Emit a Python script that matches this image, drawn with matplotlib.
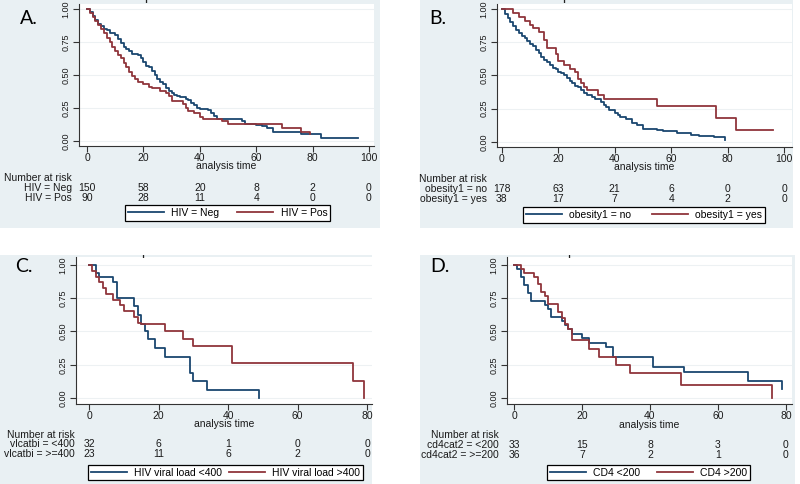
import matplotlib
matplotlib.use('Agg')
import matplotlib.pyplot as plt
from matplotlib.patches import Rectangle
from matplotlib.transforms import blended_transform_factory, Bbox

plt.rcParams['font.family'] = ['Liberation Sans', 'DejaVu Sans']

# ---- data ----
# A: HIV status
a_neg_t = [0, 1, 2, 3, 4, 5, 6, 7, 8, 10, 11, 12, 13, 14, 15, 16, 18, 19, 20, 21, 22, 23, 24, 25, 26,
           27, 28, 29, 30, 31, 32, 33, 35, 36, 37, 38, 39, 40, 43, 44, 45, 46, 55, 56, 60, 62, 64, 66,
           76, 83, 96]
a_neg_s = [1.0, 0.98, 0.95, 0.92, 0.89, 0.87, 0.85, 0.84, 0.82, 0.80, 0.77, 0.74, 0.71, 0.70, 0.68,
           0.66, 0.65, 0.63, 0.60, 0.57, 0.56, 0.53, 0.50, 0.47, 0.45, 0.43, 0.40, 0.38, 0.36, 0.35,
           0.34, 0.33, 0.32, 0.31, 0.29, 0.27, 0.25, 0.24, 0.235, 0.21, 0.19, 0.17, 0.15, 0.125, 0.12,
           0.11, 0.096, 0.07, 0.05, 0.025, 0.025]
a_pos_t = [0, 1, 2, 3, 4, 5, 6, 7, 8, 9, 10, 11, 12, 13, 14, 15, 16, 17, 18, 20, 22, 23, 26, 28, 29,
           30, 34, 35, 36, 38, 40, 41, 48, 50, 69, 76, 79]
a_pos_s = [1.0, 0.97, 0.94, 0.91, 0.88, 0.85, 0.82, 0.78, 0.75, 0.71, 0.68, 0.65, 0.63, 0.59, 0.56,
           0.52, 0.49, 0.47, 0.45, 0.43, 0.41, 0.40, 0.38, 0.36, 0.34, 0.30, 0.28, 0.25, 0.23, 0.21,
           0.18, 0.17, 0.15, 0.13, 0.10, 0.07, 0.05]
a_risk_neg = [150, 58, 20, 8, 2, 0]
a_risk_pos = [90, 28, 11, 4, 0, 0]

# B: obesity
b_no_t = [0, 1, 2, 3, 4, 5, 6, 7, 8, 9, 10, 11, 12, 13, 14, 15, 16, 17, 18, 19, 20, 21, 22, 23, 24,
          25, 26, 27, 28, 29, 30, 32, 33, 35, 36, 37, 38, 40, 41, 42, 44, 46, 48, 50, 55, 57, 62, 67,
          70, 75, 79]
b_no_s = [1.0, 0.96, 0.93, 0.90, 0.87, 0.84, 0.82, 0.80, 0.78, 0.76, 0.74, 0.72, 0.69, 0.67, 0.64,
          0.62, 0.60, 0.58, 0.56, 0.55, 0.53, 0.52, 0.50, 0.48, 0.46, 0.44, 0.42, 0.41, 0.39, 0.37,
          0.35, 0.34, 0.32, 0.30, 0.28, 0.26, 0.24, 0.22, 0.20, 0.19, 0.17, 0.14, 0.13, 0.10, 0.09,
          0.08, 0.07, 0.055, 0.045, 0.035, 0.015]
b_yes_t = [0, 4, 6, 8, 10, 11, 13, 15, 16, 19, 20, 22, 24, 26, 27, 28, 29, 30, 34, 36, 55, 76, 83, 96]
b_yes_s = [1.0, 0.97, 0.94, 0.91, 0.88, 0.86, 0.83, 0.77, 0.71, 0.66, 0.61, 0.58, 0.55, 0.53, 0.47,
           0.44, 0.41, 0.39, 0.35, 0.32, 0.27, 0.18, 0.09, 0.09]
b_risk_no = [178, 63, 21, 6, 0, 0]
b_risk_yes = [38, 17, 7, 4, 2, 0]

# C: HIV viral load
c_low_t = [0, 2, 3, 7, 8, 13, 14, 15, 16, 17, 19, 22, 29, 30, 34, 49]
c_low_s = [1.0, 0.94, 0.91, 0.875, 0.75, 0.69, 0.625, 0.56, 0.50, 0.44, 0.375, 0.31, 0.19, 0.125,
           0.0625, 0.0]
c_high_t = [0, 1, 2, 3, 4, 5, 7, 9, 10, 13, 14, 15, 22, 27, 30, 41, 76, 79]
c_high_s = [1.0, 0.957, 0.913, 0.870, 0.826, 0.783, 0.739, 0.696, 0.652, 0.609, 0.565, 0.555, 0.50,
            0.44, 0.39, 0.26, 0.13, 0.0]
c_risk_low = [32, 6, 1, 0, 0]
c_risk_high = [23, 11, 6, 2, 0]

# D: CD4 count
d_low_t = [0, 1, 2, 3, 4, 5, 9, 10, 11, 14, 15, 16, 17, 20, 22, 27, 29, 41, 50, 69, 79]
d_low_s = [1.0, 0.97, 0.91, 0.85, 0.79, 0.73, 0.70, 0.67, 0.61, 0.58, 0.55, 0.52, 0.48, 0.45, 0.41,
           0.38, 0.31, 0.235, 0.195, 0.13, 0.065]
d_high_t = [0, 2, 3, 6, 7, 8, 9, 10, 13, 14, 15, 16, 17, 22, 25, 30, 34, 49, 76]
d_high_s = [1.0, 0.97, 0.94, 0.91, 0.86, 0.80, 0.77, 0.71, 0.65, 0.60, 0.56, 0.52, 0.435, 0.37, 0.31,
            0.25, 0.19, 0.095, 0.0]
d_risk_low = [33, 15, 8, 3, 0]
d_risk_high = [36, 7, 2, 1, 0]

ticks_100 = [0, 20, 40, 60, 80, 100]
ticks_80 = [0, 20, 40, 60, 80]
yticks = [0, 0.25, 0.5, 0.75, 1.0]

NAVY = '#1a476f'
MAROON = '#90353b'
BG = '#e9f0f3'
W, H = 800, 484

fig = plt.figure(figsize=(8, 4.84), dpi=100)


def fx(px):
    return px / W


def fy(py):
    return 1 - py / H


def panel(bg, box, xlim, ylim, xticks, letter, letter_xy, curves, risk_rows, risk_x, risk_y,
          legend_labels, legend_box, label_y):
    # panel background, kept behind the axes
    fig.patches.append(Rectangle((fx(bg[0]), fy(bg[3])), fx(bg[2] - bg[0]), (bg[3] - bg[1]) / H,
                                 transform=fig.transFigure, facecolor=BG, edgecolor='none', zorder=-5))
    l, t, r, b = box
    ax = fig.add_axes([fx(l), fy(b), fx(r - l), (b - t) / H])
    ax.set_facecolor('white')
    ax.set_xlim(*xlim)
    ax.set_ylim(*ylim)
    for sp in ['top', 'right']:
        ax.spines[sp].set_visible(False)
    for sp in ['left', 'bottom']:
        ax.spines[sp].set_color('#333333')
        ax.spines[sp].set_linewidth(0.8)
    ax.set_xticks(xticks)
    ax.set_yticks(yticks)
    ax.set_yticklabels(['%.2f' % v for v in yticks], rotation=90, va='center')
    ax.tick_params(axis='both', direction='out', length=4, width=0.8, color='#333333', pad=2,
                   labelcolor='#1a1a1a')
    ax.tick_params(axis='x', labelsize=7.5, pad=1.2)
    ax.tick_params(axis='y', labelsize=6.5)
    ax.grid(axis='y', color='#edf1f3', linewidth=0.8)
    ax.set_axisbelow(True)

    handles = []
    for tt, ss, col in curves:
        h, = ax.step(tt, ss, where='post', color=col, linewidth=1.3)
        handles.append(h)

    ax.text(0.5, fy(label_y), 'analysis time', transform=blended_transform_factory(ax.transAxes, fig.transFigure),
            ha='center', va='center', fontsize=7.5, color='#1a1a1a', clip_on=False)

    # cut-off title at the top of the panel
    tl = fig.text(fx((l + r) / 2), fy(bg[1]), 'Kaplan-Meier survival estimates', ha='center',
                  va='baseline', fontsize=10, color='#222222')
    tl.set_clip_box(Bbox.from_extents(bg[0], H - bg[3], bg[2], H - bg[1]))
    tl.set_clip_on(True)

    fig.text(fx(letter_xy[0]), fy(letter_xy[1]), letter, fontsize=14, family=['Lato', 'DejaVu Sans'],
             ha='left', va='center', color='black')

    # number at risk table
    tr = blended_transform_factory(ax.transData, fig.transFigure)
    fig.text(fx(risk_x), fy(risk_y[0]), 'Number at risk', ha='right', va='center', fontsize=7.5,
             color='#1a1a1a')
    for (lab, vals), ry in zip(risk_rows, risk_y[1:]):
        fig.text(fx(risk_x), fy(ry), lab, ha='right', va='center', fontsize=7.5, color='#1a1a1a')
        for xv, v in zip(xticks, vals):
            ax.text(xv, fy(ry), str(v), transform=tr, ha='center', va='center', fontsize=7.5,
                    color='#1a1a1a', clip_on=False)

    L, T, R, B = legend_box
    leg = fig.legend(handles, legend_labels, loc='center',
                     bbox_to_anchor=(fx(L), fy(B), fx(R - L), (B - T) / H),
                     bbox_transform=fig.transFigure, mode='expand', ncol=2, fontsize=7.5,
                     frameon=True, fancybox=False, edgecolor='black', framealpha=1,
                     handlelength=3.5, handletextpad=0.7, borderpad=0.25, borderaxespad=0,
                     columnspacing=1.5)
    leg.get_frame().set_linewidth(0.9)
    return ax


panel((0, 0, 380, 228), (79, 4, 374, 146), (-2.84, 101.8), (-0.038, 1.038), ticks_100,
      'A.', (20, 18),
      [(a_neg_t, a_neg_s, NAVY), (a_pos_t, a_pos_s, MAROON)],
      [('HIV = Neg', a_risk_neg), ('HIV = Pos', a_risk_pos)], 72, (178, 188, 198),
      ['HIV = Neg', 'HIV = Pos'], (125, 205, 330, 221), 166)

panel((420, 0, 793, 228), (497, 4, 792, 147), (-1.75, 102.8), (-0.038, 1.038), ticks_100,
      'B.', (429, 18),
      [(b_no_t, b_no_s, NAVY), (b_yes_t, b_yes_s, MAROON)],
      [('obesity1 = no', b_risk_no), ('obesity1 = yes', b_risk_yes)], 487, (179, 189, 199),
      ['obesity1 = no', 'obesity1 = yes'], (523, 207, 765, 223), 167.5)

panel((0, 255, 372, 484), (76, 257, 372, 404), (-3.74, 81.4), (-0.045, 1.06), ticks_80,
      'C.', (15, 266),
      [(c_low_t, c_low_s, NAVY), (c_high_t, c_high_s, MAROON)],
      [('vlcatbi = <400', c_risk_low), ('vlcatbi = >=400', c_risk_high)], 75, (435, 444, 454),
      ['HIV viral load <400', 'HIV viral load >400'], (88, 465, 363, 480), 424)

panel((420, 255, 795, 484), (507, 257, 792, 404), (-2.06, 81.8), (-0.045, 1.06), ticks_80,
      'D.', (430, 267),
      [(d_low_t, d_low_s, NAVY), (d_high_t, d_high_s, MAROON)],
      [('cd4cat2 = <200', d_risk_low), ('cd4cat2 = >=200', d_risk_high)], 499, (435, 445, 455),
      ['CD4 <200', 'CD4 >200'], (547, 466, 750, 479), 425)

fig.savefig('out.png', dpi=100)
